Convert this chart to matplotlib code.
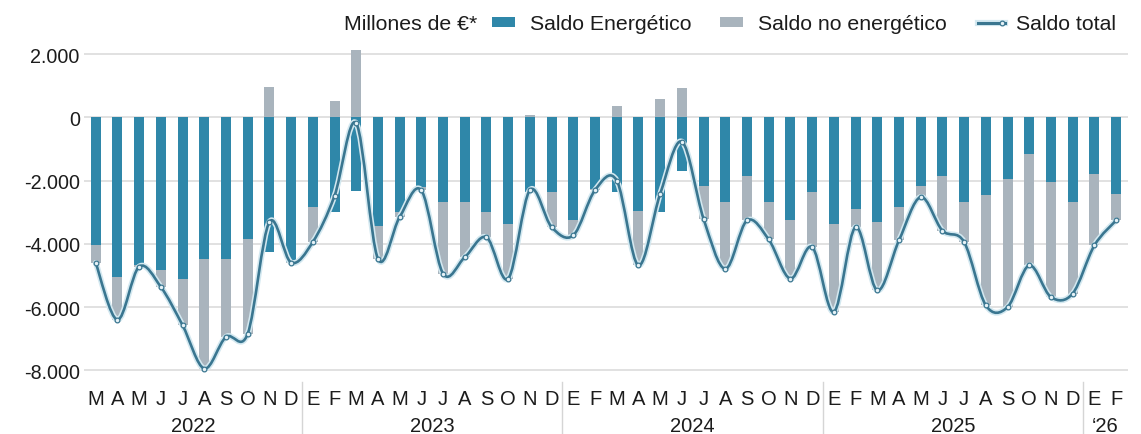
import numpy as np
import matplotlib
matplotlib.use("Agg")
import matplotlib.pyplot as plt
from matplotlib.path import Path
from matplotlib.patches import PathPatch, Rectangle
from matplotlib.lines import Line2D
import matplotlib.patheffects as pe
from matplotlib.transforms import blended_transform_factory
from matplotlib.ticker import FuncFormatter

plt.rcParams['font.family'] = ['Liberation Sans', 'DejaVu Sans']

# ---------------- data ----------------
months = ["M", "A", "M", "J", "J", "A", "S", "O", "N", "D",
          "E", "F", "M", "A", "M", "J", "J", "A", "S", "O", "N", "D",
          "E", "F", "M", "A", "M", "J", "J", "A", "S", "O", "N", "D",
          "E", "F", "M", "A", "M", "J", "J", "A", "S", "O", "N", "D",
          "E", "F"]
years = ["2022", "2023", "2024", "2025", "\u201826"]
year_centers = [4.5, 15.5, 27.5, 39.5, 46.5]
year_separators = [9.5, 21.5, 33.5, 45.5]

saldo_energetico = [-4050, -5050, -4680, -4840, -5100, -4470, -4470, -3840, -4260, -4570,
                    -2840, -3000, -2320, -3440, -3000, -2210, -2680, -2680, -3000, -3370, -2370, -2370,
                    -3260, -2260, -2370, -2950, -3000, -1700, -2160, -2680, -1840, -2680, -3260, -2370,
                    -3370, -2890, -3310, -2840, -2160, -1840, -2680, -2470, -1950, -1160, -2050, -2680,
                    -1790, -2420]
saldo_no_energetico = [-550, -1350, -40, -520, -1470, -3470, -2470, -3000, 950, -20,
                       -1100, 520, 2130, -1030, -150, -100, -2260, -1740, -790, -1730, 70, -1100,
                       -470, -40, 370, -1730, 580, 930, -1050, -2110, -1420, -1180, -1840, -1730,
                       -2780, -580, -2160, -1050, -360, -1740, -1260, -3470, -4050, -3520, -3630, -2890,
                       -2260, -840]
saldo_total = [-4600, -6400, -4720, -5360, -6570, -7940, -6940, -6840, -3310, -4590,
               -3940, -2480, -190, -4470, -3150, -2310, -4940, -4420, -3790, -5100, -2300, -3470,
               -3730, -2300, -2000, -4680, -2420, -770, -3210, -4790, -3260, -3860, -5100, -4100,
               -6150, -3470, -5470, -3890, -2520, -3580, -3940, -5940, -6000, -4680, -5680, -5570,
               -4050, -3260]
yticks = [2000, 0, -2000, -4000, -6000, -8000]

# ---------------- styles ----------------
TEAL = "#2F87A9"
GREY = "#A9B4BD"
LINE = "#3A7690"
HALO = "#d3e8f0"
TXT = "#1c1c1c"
GRID = "#dcdcdc"

W, H = 1141, 435
fig = plt.figure(figsize=(W / 100, H / 100), dpi=100)
ax_l, ax_r, ax_t, ax_b = 84, 1128, 45, 380
ax = fig.add_axes([ax_l / W, 1 - ax_b / H, (ax_r - ax_l) / W, (ax_b - ax_t) / H])

x = np.arange(len(months))
e = np.array(saldo_energetico, float)
ne = np.array(saldo_no_energetico, float)
bw = 0.46

ax.bar(x, e, width=bw, color=TEAL, zorder=2, linewidth=0)
bottom_ne = np.where(ne < 0, e, 0.0)
ax.bar(x, ne, width=bw, bottom=bottom_ne, color=GREY, zorder=2, linewidth=0)

# smooth total line (cardinal spline drawn as Bezier path)
pts = np.column_stack([x, np.array(saldo_total, float)])
n = len(pts)
verts = [tuple(pts[0])]
codes = [Path.MOVETO]
for i in range(n - 1):
    p0 = pts[max(i - 1, 0)]
    p1 = pts[i]
    p2 = pts[i + 1]
    p3 = pts[min(i + 2, n - 1)]
    c1 = p1 + (p2 - p0) / 6.0
    c2 = p2 - (p3 - p1) / 6.0
    verts += [tuple(c1), tuple(c2), tuple(p2)]
    codes += [Path.CURVE4] * 3
patch = PathPatch(Path(verts, codes), fill=False, edgecolor=LINE, linewidth=1.9, zorder=4,
                  capstyle='round', joinstyle='round')
patch.set_path_effects([pe.Stroke(linewidth=4.2, foreground=HALO), pe.Normal()])
ax.add_patch(patch)
ax.plot(x, saldo_total, linestyle='none', marker='o', markersize=3.4,
        markerfacecolor="#e6f2f7", markeredgecolor=LINE, markeredgewidth=0.9, zorder=5)

# axes styling
ax.set_xlim(-0.54, 47.55)
ax.set_ylim(-8269, 2316)
ax.set_yticks(yticks)
ax.yaxis.set_major_formatter(FuncFormatter(lambda v, p: f"{int(v):,}".replace(",", ".")))
ax.tick_params(axis='y', length=0, pad=3, labelsize=14.2, labelcolor=TXT)
ax.set_xticks([])
for s in ax.spines.values():
    s.set_visible(False)
ax.grid(axis='y', color=GRID, linewidth=1.2, zorder=0)
ax.set_axisbelow(True)

# month and year labels
tr = blended_transform_factory(ax.transData, fig.transFigure)
for xi, m in zip(x, months):
    ax.text(xi, 1 - 405.5 / H, m, transform=tr, ha='center', va='baseline',
            fontsize=14.5, color=TXT, clip_on=False)
for xc, yl in zip(year_centers, years):
    ax.text(xc, 1 - 432.5 / H, yl, transform=tr, ha='center', va='baseline',
            fontsize=14.5, color=TXT, clip_on=False)
for xs in year_separators:
    ax.add_line(Line2D([xs, xs], [1 - 383 / H, 0], transform=tr, color="#d5d5d5",
                       linewidth=1.0, clip_on=False))

# legend (manual)
def fx(px):
    return px / W

def fy(py):
    return 1 - py / H

base = fy(30)
LFS = 15.3
fig.text(fx(344), base, "Millones de \u20ac*", fontsize=LFS, color=TXT, va='baseline')
fig.add_artist(Rectangle((fx(492), fy(28)), fx(515) - fx(492), fy(18) - fy(28),
                         transform=fig.transFigure, color=TEAL, linewidth=0))
fig.text(fx(530), base, "Saldo Energ\u00e9tico", fontsize=LFS, color=TXT, va='baseline')
fig.add_artist(Rectangle((fx(720), fy(28)), fx(743) - fx(720), fy(18) - fy(28),
                         transform=fig.transFigure, color=GREY, linewidth=0))
fig.text(fx(758), base, "Saldo no energ\u00e9tico", fontsize=LFS, color=TXT, va='baseline')
lg = Line2D([fx(978), fx(1005)], [fy(23.5), fy(23.5)], transform=fig.transFigure,
            color=LINE, linewidth=2.2)
lg.set_path_effects([pe.Stroke(linewidth=4.5, foreground=HALO), pe.Normal()])
fig.add_artist(lg)
fig.add_artist(Line2D([fx(1002)], [fy(23.5)], transform=fig.transFigure, linestyle='none',
                      marker='o', markersize=3.4, markerfacecolor="#e6f2f7",
                      markeredgecolor=LINE, markeredgewidth=0.9))
fig.text(fx(1016), base, "Saldo total", fontsize=LFS, color=TXT, va='baseline')

fig.savefig("out.png", dpi=100)
